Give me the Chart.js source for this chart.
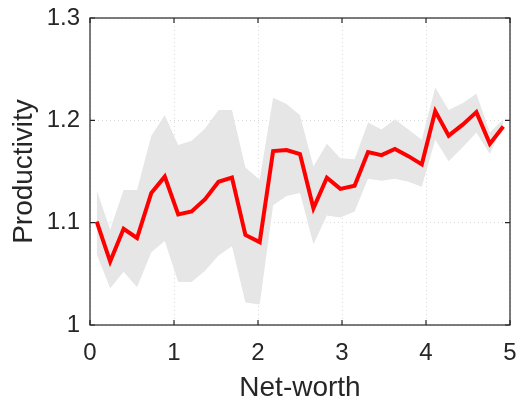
<!DOCTYPE html>
<html>
<head>
<meta charset="utf-8">
<script src="https://cdn.jsdelivr.net/npm/chart.js@4.4.1/dist/chart.umd.min.js"></script>
<style>
html, body { margin: 0; padding: 0; background: #fff; }
#wrap { width: 517px; height: 402px; }
</style>
</head>
<body>
<div id="wrap"><canvas id="chart" width="517" height="402"></canvas></div>
<script>
// net-worth bins
const netWorth = [0.08, 0.24, 0.40, 0.56, 0.73, 0.89, 1.05, 1.21, 1.37, 1.53, 1.69,
                  1.85, 2.02, 2.18, 2.34, 2.50, 2.66, 2.82, 2.98, 3.15, 3.31, 3.47,
                  3.63, 3.79, 3.95, 4.11, 4.27, 4.44, 4.60, 4.76, 4.92];
const productivity = [1.101, 1.062, 1.094, 1.085, 1.129, 1.145, 1.108, 1.111, 1.123, 1.140, 1.144,
                      1.088, 1.081, 1.170, 1.171, 1.167, 1.114, 1.144, 1.133, 1.136, 1.169, 1.166,
                      1.172, 1.165, 1.157, 1.209, 1.185, 1.196, 1.208, 1.177, 1.194];
const upperBand = [1.132, 1.093, 1.132, 1.132, 1.185, 1.205, 1.176, 1.180, 1.192, 1.210, 1.210,
                   1.154, 1.142, 1.222, 1.216, 1.205, 1.155, 1.177, 1.163, 1.162, 1.198, 1.191,
                   1.201, 1.191, 1.181, 1.232, 1.210, 1.217, 1.226, 1.188, 1.201];
const lowerBand = [1.069, 1.036, 1.052, 1.037, 1.071, 1.082, 1.042, 1.042, 1.053, 1.068, 1.077,
                   1.022, 1.020, 1.117, 1.126, 1.129, 1.079, 1.107, 1.105, 1.111, 1.143, 1.141,
                   1.143, 1.140, 1.135, 1.181, 1.160, 1.174, 1.188, 1.167, 1.196];
const xTicks = [0, 1, 2, 3, 4, 5];
const yTicks = [1, 1.1, 1.2, 1.3];

const axisColor = '#262626';
Chart.defaults.font.family = "'Liberation Sans', Arial, sans-serif";
Chart.defaults.color = axisColor;

const pts = arr => arr.map((v, i) => ({ x: netWorth[i], y: v }));

// matlab-like box with inward ticks
const boxPlugin = {
    id: 'box',
    afterDraw(chart) {
        const { ctx, chartArea: a, scales } = chart;
        const tl = 5;
        ctx.save();
        ctx.strokeStyle = axisColor;
        ctx.lineWidth = 1.2;
        ctx.beginPath();
        xTicks.forEach(v => {
            const px = scales.x.getPixelForValue(v);
            ctx.moveTo(px, a.bottom); ctx.lineTo(px, a.bottom - tl);
            ctx.moveTo(px, a.top); ctx.lineTo(px, a.top + tl);
        });
        yTicks.forEach(v => {
            const py = scales.y.getPixelForValue(v);
            ctx.moveTo(a.left, py); ctx.lineTo(a.left + tl, py);
            ctx.moveTo(a.right, py); ctx.lineTo(a.right - tl, py);
        });
        ctx.stroke();
        ctx.strokeRect(a.left, a.top, a.right - a.left, a.bottom - a.top);
        ctx.restore();
    }
};

function noPad(s) {
    s.paddingLeft = 0; s.paddingRight = 0; s.paddingTop = 0; s.paddingBottom = 0;
}

new Chart(document.getElementById('chart'), {
    type: 'line',
    data: {
        datasets: [
            { data: pts(upperBand), fill: '+1', backgroundColor: '#e6e6e6', borderWidth: 0, pointRadius: 0, order: 2 },
            { data: pts(lowerBand), fill: false, borderWidth: 0, pointRadius: 0, order: 2 },
            { data: pts(productivity), borderColor: '#ff0000', borderWidth: 4, pointRadius: 0, fill: false, tension: 0, order: 0 }
        ]
    },
    options: {
        responsive: false,
        animation: false,
        devicePixelRatio: 1,
        layout: { padding: { left: 0, top: 18, right: 7, bottom: 0 } },
        plugins: { legend: { display: false }, tooltip: { enabled: false } },
        scales: {
            x: {
                type: 'linear', min: 0, max: 5,
                afterFit: s => { s.height = 77; noPad(s); },
                afterBuildTicks: s => { s.ticks = xTicks.map(v => ({ value: v })); },
                ticks: { font: { size: 24 }, padding: 14, color: axisColor },
                grid: { color: '#d9d9d9', drawTicks: false, lineWidth: 1 },
                border: { display: false, dash: [1, 3] },
                title: { display: true, text: 'Net-worth', font: { size: 28, lineHeight: 1 }, padding: 0, color: axisColor }
            },
            y: {
                type: 'linear', min: 1, max: 1.3,
                afterFit: s => { s.width = 90; noPad(s); },
                afterBuildTicks: s => { s.ticks = yTicks.map(v => ({ value: v })); },
                ticks: { font: { size: 24 }, padding: 10, color: axisColor,
                         callback: v => String(Number(v.toFixed(1))) },
                grid: { color: '#d9d9d9', drawTicks: false, lineWidth: 1 },
                border: { display: false, dash: [1, 3] },
                title: { display: true, text: 'Productivity', font: { size: 28, lineHeight: 1.2 }, padding: { top: 7, bottom: 0 }, color: axisColor }
            }
        }
    },
    plugins: [boxPlugin]
});
</script>
</body>
</html>
